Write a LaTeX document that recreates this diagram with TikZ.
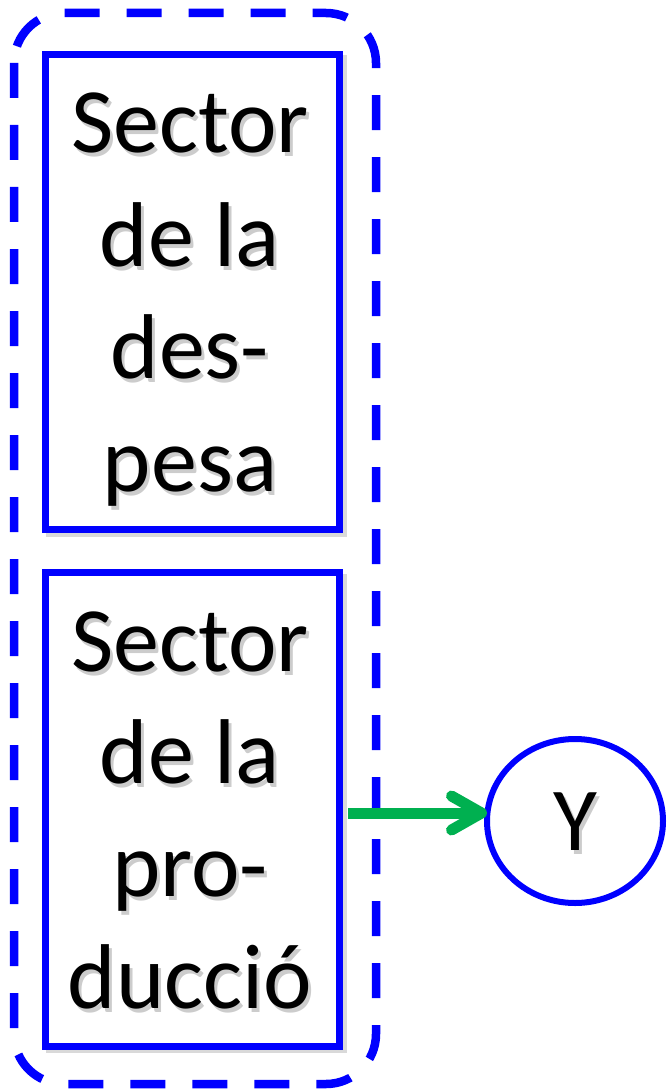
\documentclass[tikz,border=0pt]{standalone}
\usepackage{fontspec}
\setmainfont{Carlito}
\usetikzlibrary{arrows.meta,shapes.geometric}
\definecolor{pblue}{RGB}{0,0,255}
\definecolor{pgreen}{RGB}{0,176,80}
\tikzset{
  sectorbox/.style={draw=pblue, line width=7pt, rectangle, minimum width=294pt, minimum height=474pt, inner sep=0pt, outer sep=0pt},
  boxshadow/.style={draw=black, opacity=0.15, line width=7pt},
  txt/.style={font=\fontsize{92}{112}\selectfont, anchor=base, inner sep=0pt, text=black},
  txtshadow/.style={font=\fontsize{92}{112}\selectfont, anchor=base, inner sep=0pt, text=black, opacity=0.2},
  group/.style={draw=pblue, line width=8.5pt, dash pattern=on 35pt off 27pt, rounded corners=50pt},
  flow/.style={draw=pgreen, line width=11pt, line cap=butt, -{Straight Barb[length=30pt, width=34pt, line cap=round, line join=round]}},
  outnode/.style={draw=pblue, line width=6pt, ellipse, minimum width=176pt, minimum height=164pt, inner sep=0pt, outer sep=0pt}
}
\begin{document}
\begin{tikzpicture}[x=1pt,y=-1pt]
\useasboundingbox (0,0) rectangle (669,1091);
% shadows of boxes
\draw[boxshadow] (49,59) rectangle (343,533);
\draw[boxshadow] (49,577) rectangle (343,1049);
% boxes
\node[sectorbox, fill=white] (box1) at (192,292) {};
\node[sectorbox, fill=white] (box2) at (192,809) {};
% group
\draw[group] (14,13) rectangle (376,1084);
% texts of box 1
\foreach \t/\y/\n in {Sector/153/a,de la/266/b,des-/378/c,pesa/491/d}{
  \node[txtshadow] (sh1\n) at (193,\y+4) {\t};
  \node[txt] (t1\n) at (190,\y) {\t};
}
% texts of box 2
\foreach \t/\y/\n in {Sector/671/a,de la/783/b,pro-/896/c,ducció/1008/d}{
  \node[txtshadow] (sh2\n) at (193,\y+4) {\t};
  \node[txt] (t2\n) at (190,\y) {\t};
}
% output
\node[outnode] (Y) at (575,821) {};
\node[txtshadow, font=\fontsize{90}{110}\selectfont] (Ysh) at (578,854) {Y};
\node[txt, font=\fontsize{90}{110}\selectfont] (Ytxt) at (575,850) {Y};
\coordinate (astart) at (348,813);
\draw[flow] (astart) -- (Y.west |- astart);
\end{tikzpicture}
\end{document}
